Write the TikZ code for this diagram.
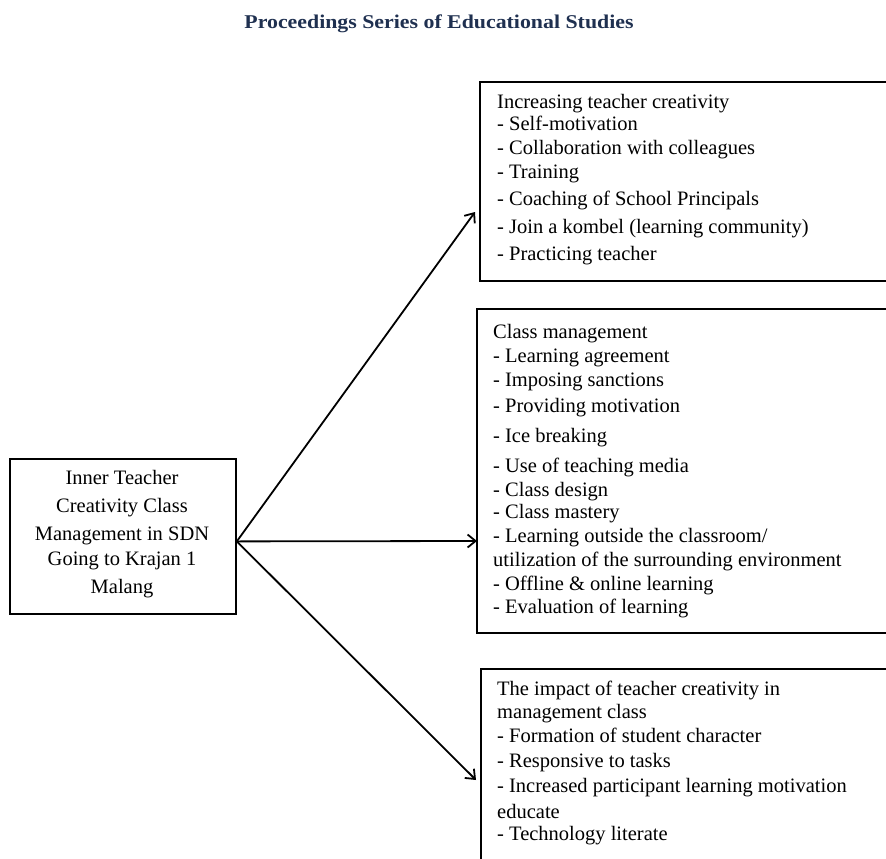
\documentclass[tikz,border=0pt]{standalone}
\usepackage{fontspec}
\setmainfont{Liberation Serif}
\newfontfamily\titlefont[FakeStretch=1.12]{Liberation Serif}
\usetikzlibrary{arrows.meta,calc}
\definecolor{titleblue}{HTML}{1F3050}
\tikzset{
  box/.style={draw=black, line width=1.8pt, rectangle, inner sep=0pt, anchor=north west},
  txt/.style={anchor=base west, inner sep=0pt, font=\fontsize{20.5}{24}\selectfont},
  ctxt/.style={anchor=base, inner sep=0pt, font=\fontsize{20.5}{24}\selectfont},
  conn/.style={line width=1.8pt, -{Straight Barb[length=8pt,width=13pt,line width=1.8pt]}},
}
\begin{document}
\begin{tikzpicture}[x=1pt,y=-1pt]
\useasboundingbox (0,0) rectangle (886,859);
% title
\node[inner sep=0pt, text=titleblue, font=\titlefont\bfseries\fontsize{19.5}{22}\selectfont] (title) at (439,24) {Proceedings Series of Educational Studies};
% boxes
\node[box, minimum width=226pt, minimum height=155pt] (c) at (9,458) {};
\node[box, minimum width=600pt, minimum height=199pt] (b1) at (479,81) {};
\node[box, minimum width=600pt, minimum height=324pt] (b2) at (476,308) {};
\node[box, minimum width=600pt, minimum height=260pt] (b3) at (480,668) {};
% left text
\node[ctxt] (c1) at (122,484) {Inner Teacher};
\node[ctxt] (c2) at (122,512) {Creativity Class};
\node[ctxt] (c3) at (122,540) {Management in SDN};
\node[ctxt] (c4) at (122,565) {Going to Krajan 1};
\node[ctxt] (c5) at (122,593) {Malang};
% box 1 text
\node[txt] (t11) at (497,108) {Increasing teacher creativity};
\node[txt] (t12) at (497,130) {- Self-motivation};
\node[txt] (t13) at (497,154) {- Collaboration with colleagues};
\node[txt] (t14) at (497,178) {- Training};
\node[txt] (t15) at (497,205) {- Coaching of School Principals};
\node[txt] (t16) at (497,233) {- Join a kombel (learning community)};
\node[txt] (t17) at (497,260) {- Practicing teacher};
% box 2 text
\node[txt] (t21) at (493,338) {Class management};
\node[txt] (t22) at (493,362) {- Learning agreement};
\node[txt] (t23) at (493,386) {- Imposing sanctions};
\node[txt] (t24) at (493,412) {- Providing motivation};
\node[txt] (t25) at (493,442) {- Ice breaking};
\node[txt] (t26) at (493,472) {- Use of teaching media};
\node[txt] (t27) at (493,496) {- Class design};
\node[txt] (t28) at (493,518) {- Class mastery};
\node[txt] (t29) at (493,542) {- Learning outside the classroom/};
\node[txt] (t210) at (493,566) {utilization of the surrounding environment};
\node[txt] (t211) at (493,590) {- Offline \& online learning};
\node[txt] (t212) at (493,613) {- Evaluation of learning};
% box 3 text
\node[txt] (t31) at (497,695) {The impact of teacher creativity in};
\node[txt] (t32) at (497,718) {management class};
\node[txt] (t33) at (497,742) {- Formation of student character};
\node[txt] (t34) at (497,767) {- Responsive to tasks};
\node[txt] (t35) at (497,792) {- Increased participant learning motivation};
\node[txt] (t36) at (497,818) {educate};
\node[txt] (t37) at (497,840) {- Technology literate};
% connectors
\coordinate (o) at ($(c.east)+(0,5)$);
\draw[conn] (o) -- ($(b1.north west)+(-4,131)$);
\draw[conn] (o) -- ($(b2.north west)+(1,233)$);
\draw[conn] (o) -- ($(b3.north west)+(-4,112)$);
\end{tikzpicture}
\end{document}
